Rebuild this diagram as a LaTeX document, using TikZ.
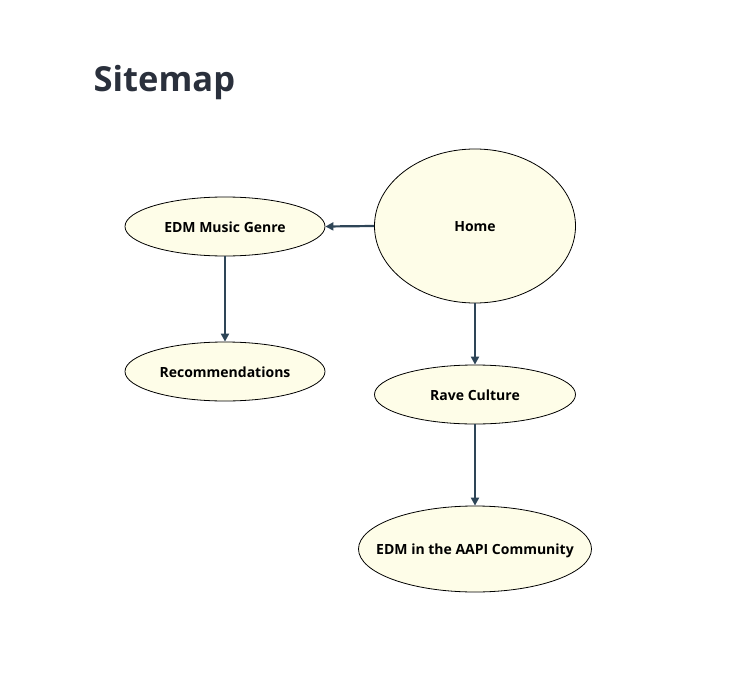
\documentclass[tikz,border=0pt]{standalone}
\usepackage{fontspec}
\setmainfont{Open Sans}
\usetikzlibrary{shapes.geometric,arrows.meta}
\definecolor{nodefill}{HTML}{FEFDE8}
\definecolor{arrowcol}{HTML}{2E4557}
\definecolor{titlecol}{HTML}{2A303C}
\tikzset{
  page/.style={x=1pt,y=-1pt},
  pagenode/.style={ellipse,draw=black,line width=0.8pt,fill=nodefill,inner sep=0pt},
  nodetext/.style={font=\fontsize{14}{16}\selectfont\bfseries,text=black},
  link/.style={draw=arrowcol,line width=2.2pt,-{Triangle[length=8pt,width=8pt]}},
}
\begin{document}
\begin{tikzpicture}[page]
\useasboundingbox (0,0) rectangle (744,693);
\node[anchor=base west,font=\fontsize{34.5}{40}\selectfont\bfseries,text=titlecol,inner sep=0pt] (title) at (93.5,91) {Sitemap};
\node[pagenode,minimum width=201pt,minimum height=154pt,label={[nodetext,yshift=-1pt]center:Home}] (home) at (475,226) {};
\node[pagenode,minimum width=200pt,minimum height=59pt,label={[nodetext,yshift=-0.5pt]center:EDM Music Genre}] (genre) at (225,226.5) {};
\node[pagenode,minimum width=200pt,minimum height=59pt,label={[nodetext,yshift=-0.5pt]center:Recommendations}] (recs) at (225,371.5) {};
\node[pagenode,minimum width=201pt,minimum height=59pt,label={[nodetext,yshift=-0.5pt]center:Rave Culture}] (rave) at (475,394.5) {};
\node[pagenode,minimum width=233pt,minimum height=86pt,label={[nodetext,yshift=-1.5pt]center:EDM in the AAPI Community}] (aapi) at (475,549) {};
\draw[link] (home.west) -- (genre.east);
\draw[link] (genre.south) -- (recs.north);
\draw[link] (home.south) -- (rave.north);
\draw[link] (rave.south) -- (aapi.north);
\end{tikzpicture}
\end{document}
